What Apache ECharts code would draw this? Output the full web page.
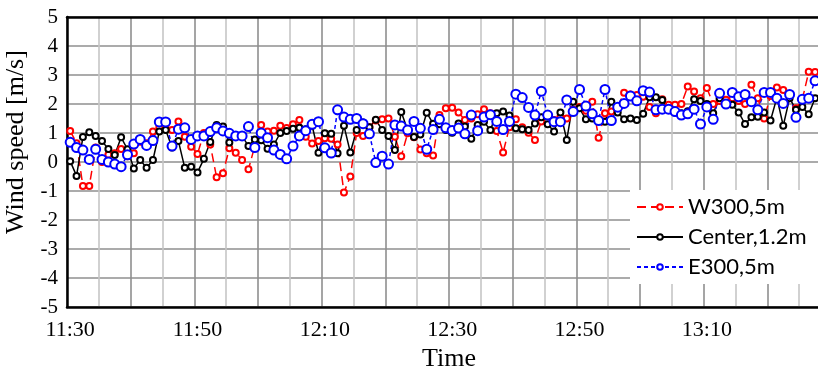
<!DOCTYPE html>
<html>
<head>
<meta charset="utf-8">
<script src="https://cdn.jsdelivr.net/npm/echarts@6/dist/echarts.min.js"></script>
<style>
  html, body { margin: 0; padding: 0; background: #fff; }
  #chart { width: 818px; height: 367px; }
</style>
</head>
<body>
<div id="chart"></div>
<script>
// one sample per minute from 11:30, axis slots are minutes
const startMinute = 11 * 60 + 30;
const slotCount = 120;
const timeLabels = [];
for (let i = 0; i < slotCount; i++) {
    const t = startMinute + i;
    timeLabels.push(Math.floor(t / 60) + ':' + String(t % 60).padStart(2, '0'));
}

const seriesNames = ['W300,5m', 'Center,1.2m', 'E300,5m'];

// wind speed [m/s]
const w300 = [
    1.07, 0.65, -0.83, -0.83, 0.5, 0.0, 0.25, 0.3, 0.45, 0.2,
    0.3, 0.7, 0.65, 1.05, 1.2, 1.3, 1.1, 1.4, 0.87, 0.53,
    0.28, 1.0, 0.6, -0.53, -0.39, 0.47, 0.32, 0.07, -0.25, 0.55,
    1.28, 1.05, 1.08, 1.25, 1.17, 1.3, 1.45, 0.87, 0.64, 0.72,
    0.82, 0.8, 0.6, -1.05, -0.5, 1.0, 0.9, 1.2, 1.43, 1.47,
    1.5, 0.87, 0.2, 0.99, 0.85, 0.43, 0.3, 0.22, 1.62, 1.85,
    1.87, 1.71, 1.45, 1.5, 1.65, 1.82, 1.68, 1.07, 0.33, 1.2,
    1.47, 1.2, 1.01, 0.76, 1.4, 1.59, 1.45, 1.55, 1.5, 1.8,
    1.9, 1.77, 2.08, 0.84, 1.68, 1.74, 1.9, 2.39, 2.33, 2.31,
    2.25, 1.9, 1.68, 2.16, 1.97, 1.97, 2.0, 2.6, 2.43, 2.2,
    2.55, 2.0, 2.1, 2.15, 2.2, 2.1, 2.0, 2.66, 2.2, 1.5,
    2.28, 2.57, 2.48, 2.3, 1.85, 2.16, 3.11, 3.1
];
const center = [
    0.03, -0.48, 0.86, 1.03, 0.9, 0.72, 0.45, 0.24, 0.85, 0.44,
    -0.22, 0.07, -0.2, 0.07, 1.05, 1.1, 0.5, 0.72, -0.2, -0.16,
    -0.36, 0.11, 0.69, 1.28, 1.22, 0.67, 0.9, 0.9, 0.55, 0.78,
    0.75, 0.46, 0.6, 1.0, 1.07, 1.15, 1.18, 1.13, 1.25, 0.32,
    0.99, 0.97, 0.3, 1.25, 0.33, 1.1, 1.36, 1.2, 1.46, 1.1,
    0.9, 0.41, 1.72, 1.1, 0.86, 0.95, 1.7, 1.32, 1.3, 1.1,
    1.01, 1.33, 1.22, 0.8, 1.28, 1.39, 1.1, 1.68, 1.74, 1.6,
    1.16, 1.13, 1.1, 1.33, 1.54, 1.3, 1.05, 1.71, 0.76, 2.08,
    1.85, 1.47, 1.5, 1.41, 1.39, 2.08, 1.71, 1.47, 1.5, 1.45,
    1.66, 2.23, 2.23, 2.14, 1.8, 1.71, 1.68, 1.75, 2.16, 2.1,
    2.0, 1.68, 2.2, 2.0, 1.97, 1.71, 1.31, 1.54, 1.56, 1.71,
    1.43, 2.22, 1.25, 2.2, 1.8, 1.9, 1.65, 2.2
];
const e300 = [
    0.68, 0.5, 0.41, 0.09, 0.44, 0.09, 0.0, -0.07, -0.16, 0.25,
    0.62, 0.78, 0.57, 0.74, 1.38, 1.38, 0.55, 1.13, 1.18, 0.78,
    0.9, 0.9, 1.05, 1.18, 1.07, 0.99, 0.9, 0.9, 1.22, 0.5,
    1.0, 0.84, 0.41, 0.26, 0.11, 0.55, 0.9, 1.08, 1.3, 1.39,
    0.49, 0.31, 1.8, 1.55, 1.47, 1.5, 1.32, 0.97, -0.02, 0.2,
    -0.07, 1.28, 1.24, 1.1, 1.4, 1.16, 0.44, 1.12, 1.47, 1.18,
    1.09, 1.17, 0.97, 1.62, 1.08, 1.55, 1.63, 1.4, 1.12, 1.4,
    2.34, 2.22, 1.88, 1.62, 2.44, 1.62, 1.39, 1.39, 2.14, 1.74,
    2.5, 1.93, 1.66, 1.43, 2.5, 1.43, 1.89, 2.02, 2.28, 2.11,
    2.46, 2.41, 1.8, 1.82, 1.82, 1.74, 1.62, 1.66, 1.82, 1.31,
    1.9, 1.47, 2.37, 2.0, 2.4, 2.25, 2.33, 2.08, 1.8, 2.4,
    2.4, 2.2, 2.02, 2.33, 1.54, 2.16, 2.2, 2.8
];

const serif = 'Liberation Serif';
const darkGrid = '#8f8f8f';
const lightGrid = '#c6c6c6';

const chart = echarts.init(document.getElementById('chart'));

const options = {
    animation: false,
    grid: { left: 67, top: 17, right: -13, bottom: 60, outerBoundsMode: 'none' },
    legend: {
        orient: 'vertical',
        left: 630,
        top: 190,
        padding: [6, 12, 6, 6],
        itemGap: 8,
        itemWidth: 46,
        itemHeight: 7,
        backgroundColor: '#fff',
        textStyle: { fontFamily: 'Lato', fontSize: 22, color: '#000' },
        data: seriesNames
    },
    xAxis: [
        {
            type: 'category',
            data: timeLabels,
            boundaryGap: true,
            name: 'Time',
            nameLocation: 'middle',
            nameGap: 36,
            nameTextStyle: { fontFamily: serif, fontSize: 26, color: '#000' },
            axisLine: { onZero: false, lineStyle: { color: '#000', width: 2.5 } },
            axisTick: { show: false },
            axisLabel: {
                interval: (idx) => idx % 20 === 0,
                fontFamily: serif, fontSize: 22, color: '#000', margin: 12
            },
            splitLine: { show: false }
        },
        {
            // minute grid: top border, 10 min lines, 5 min minor lines
            type: 'value',
            min: 0,
            max: slotCount,
            interval: 10,
            position: 'top',
            axisLine: { show: true, onZero: false, lineStyle: { color: '#000', width: 2.5 } },
            axisTick: { show: false },
            axisLabel: { show: false },
            splitLine: { show: true, lineStyle: { color: darkGrid, width: 1.6 } },
            minorTick: { show: false, splitNumber: 2 },
            minorSplitLine: { show: true, lineStyle: { color: lightGrid, width: 1.6 } }
        }
    ],
    yAxis: {
        type: 'value',
        min: -5,
        max: 5,
        interval: 1,
        name: 'Wind speed [m/s]',
        nameLocation: 'middle',
        nameRotate: 90,
        nameGap: 30,
        // pushes the title a bit up, like the original
        nameTextStyle: { fontFamily: serif, fontSize: 26, color: '#000', padding: [0, 0, 0, 40] },
        axisLine: { show: true, onZero: false, lineStyle: { color: '#000', width: 2.5 } },
        axisTick: { show: false },
        axisLabel: { fontFamily: serif, fontSize: 21, color: '#000', margin: 9 },
        splitLine: { lineStyle: { color: darkGrid, width: 1.6 } }
    },
    series: [
        {
            name: seriesNames[0],
            type: 'line',
            data: w300,
            symbol: 'emptyCircle',
            symbolSize: 6,
            showAllSymbol: true,
            itemStyle: { color: '#ff0000', borderWidth: 1.3 },
            lineStyle: { color: '#ff0000', width: 1.5, type: [9, 5] }
        },
        {
            name: seriesNames[1],
            type: 'line',
            data: center,
            symbol: 'emptyCircle',
            symbolSize: 6,
            showAllSymbol: true,
            itemStyle: { color: '#000000', borderWidth: 1.3 },
            lineStyle: { color: '#000000', width: 1.5 }
        },
        {
            name: seriesNames[2],
            type: 'line',
            data: e300,
            symbol: 'emptyCircle',
            symbolSize: 9,
            showAllSymbol: true,
            itemStyle: { color: '#0000ff', borderWidth: 1.4 },
            lineStyle: { color: '#0000ff', width: 1.5, type: [4, 3] }
        }
    ]
};

chart.setOption(options);
</script>
</body>
</html>
